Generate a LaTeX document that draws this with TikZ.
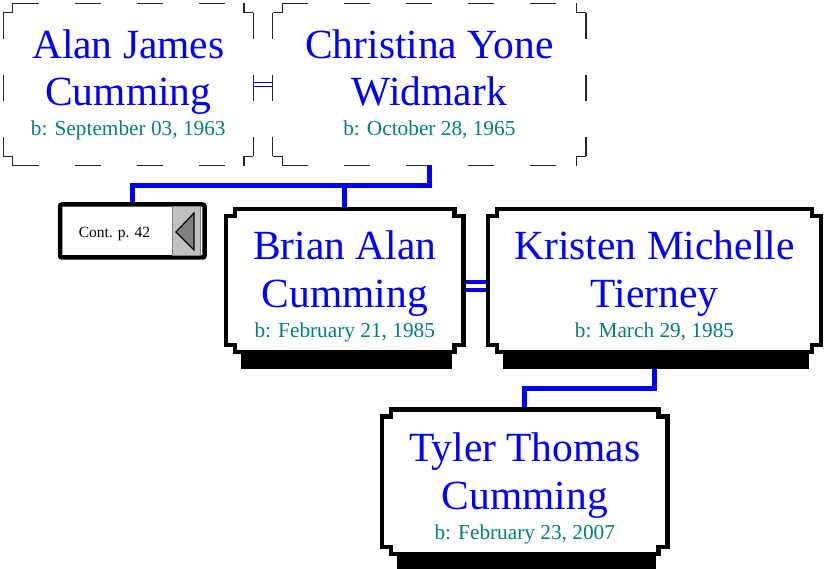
\documentclass[tikz,border=0pt]{standalone}
\usepackage{fontspec}
\setmainfont{Liberation Serif}
\usetikzlibrary{calc}
\definecolor{nameblue}{RGB}{0,0,255}
\definecolor{dateteal}{RGB}{0,128,128}
\definecolor{btngray}{RGB}{192,192,192}
\definecolor{tridark}{RGB}{128,128,128}
% notched outline path of a named box: #1 node, #2 notch x, #3 notch y
\newcommand\notchpath[3]{%
  ($(#1.north west)+(#2,0)$) -- ($(#1.north east)+(-#2,0)$) -- ++(0,#3) -- ++(#2,0)
    -- ($(#1.south east)+(0,-#3)$) -- ++(-#2,0) -- ++(0,#3)
    -- ($(#1.south west)+(#2,0)$) -- ++(0,-#3) -- ++(-#2,0)
    -- ($(#1.north west)+(0,#3)$) -- ++(#2,0) -- cycle}
\newcommand\notchbox[4]{\draw[#1] \notchpath{#2}{#3}{#4};}
% dashed notched box: each side starts its own dash pattern
\newcommand\dashnotch[3]{%
  \fill[white] \notchpath{#1}{#2}{#3};
  \draw[dashside] ($(#1.north west)+(#2,0)$) -- ($(#1.north east)+(-#2,0)$);
  \draw[dashside] ($(#1.north east)+(0,#3)$) -- ($(#1.south east)+(0,-#3)$);
  \draw[dashside] ($(#1.south west)+(#2,0)$) -- ($(#1.south east)+(-#2,0)$);
  \draw[dashside] ($(#1.north west)+(0,#3)$) -- ($(#1.south west)+(0,-#3)$);
  \draw[notchside] ($(#1.north west)+(#2,0)$) -- ++(0,#3) -- ++(-#2,0);
  \draw[notchside] ($(#1.north east)+(-#2,0)$) -- ++(0,#3) -- ++(#2,0);
  \draw[notchside] ($(#1.south east)+(0,-#3)$) -- ++(-#2,0) -- ++(0,#3);
  \draw[notchside] ($(#1.south west)+(0,-#3)$) -- ++(#2,0) -- ++(0,#3);}
\newcommand\boxshadow[1]{%
  \fill[black] ($(#1.south west)+(14.5,-1)$) rectangle ($(#1.south east)+(-12,17)$);}
\begin{document}
\begin{tikzpicture}[x=1pt,y=-1pt,
  boxarea/.style={rectangle, draw=none, inner sep=0pt, outer sep=0pt},
  nametext/.style={anchor=base, inner sep=0pt, text=nameblue, font=\fontsize{41.5}{48}\selectfont},
  datetext/.style={anchor=base, inner sep=0pt, text=dateteal, font=\fontsize{21.3}{25}\selectfont},
  conttext/.style={anchor=base, inner sep=0pt, text=black, font=\fontsize{15.5}{18}\selectfont},
  conn/.style={draw=nameblue, line width=5pt},
  marry/.style={draw=nameblue, line width=4pt},
  marrythin/.style={draw=nameblue, line width=1.1pt},
  dashside/.style={draw=black!85, line width=1.2pt, dash pattern=on 26pt off 36pt},
  notchside/.style={draw=black!85, line width=1.2pt},
  solidbox/.style={draw=black, line width=4.5pt, fill=white, line join=miter},
]
\useasboundingbox (0,0) rectangle (825,569);

% box areas
\node[boxarea, minimum width=250pt, minimum height=162.4pt] (alan) at (128.3,84.5) {};
\node[boxarea, minimum width=313.3pt, minimum height=162.4pt] (christina) at (429.35,84.5) {};
\node[boxarea, minimum width=237.5pt, minimum height=143pt] (brian) at (344.75,280.5) {};
\node[boxarea, minimum width=333pt, minimum height=143pt] (kristen) at (654.5,280.5) {};
\node[boxarea, minimum width=285.5pt, minimum height=144.5pt] (tyler) at (524.75,481.75) {};
\node[boxarea, minimum width=144.5pt, minimum height=53pt] (cont) at (132.25,231) {};

\coordinate (j1) at (300,185.5);
\coordinate (j2) at (600,388.5);

% connectors
\draw[conn] (christina.south) -- (christina.south |- j1) -| (cont.north);
\draw[conn] (brian.north |- j1) -- (brian.north);
\draw[conn] (kristen.south) -- (kristen.south |- j2) -| (tyler.north);
\draw[marrythin] ($(alan.east)+(0,-1.8)$) -- ($(christina.west)+(0,-1.8)$);
\draw[marrythin] ($(alan.east)+(0,1.6)$) -- ($(christina.west)+(0,1.6)$);
\draw[marry] ($(brian.east)+(0,1.5)$) -- ($(kristen.west)+(0,1.5)$);
\draw[marry] ($(brian.east)+(0,10)$) -- ($(kristen.west)+(0,10)$);

% shadows
\boxshadow{brian}
\boxshadow{kristen}
\boxshadow{tyler}

% outlines
\dashnotch{alan}{9.4}{9.4}
\dashnotch{christina}{9.4}{9.4}
\notchbox{solidbox}{brian}{9}{7}
\notchbox{solidbox}{kristen}{9}{7}
\notchbox{solidbox}{tyler}{9}{7}

% continuation box
\draw[draw=black, line width=4.5pt, fill=white, rounded corners=2pt] (cont.north west) rectangle (cont.south east);
\draw[fill=btngray, draw=tridark, line width=0.8pt] (172,206.8) rectangle (200,255.2);
\draw[fill=tridark, draw=black, line width=1.2pt, line join=miter] (176,232) -- (194,213) -- (194,250) -- cycle;
\node[conttext] (contlabel) at (114.5,237.5) {Cont. p. 42};

% texts
\node[nametext] (alan1) at (128.3,58.3) {Alan James};
\node[nametext] (alan2) at (128.3,106) {Cumming};
\node[datetext] (alan3) at (128.3,136) {b: September 03, 1963};

\node[nametext] (chr1) at (429.35,58.3) {Christina Yone};
\node[nametext] (chr2) at (429.35,106) {Widmark};
\node[datetext] (chr3) at (429.35,136) {b: October 28, 1965};

\node[nametext] (bri1) at (344.75,260) {Brian Alan};
\node[nametext] (bri2) at (344.75,307.3) {Cumming};
\node[datetext] (bri3) at (344.75,337.7) {b: February 21, 1985};

\node[nametext] (kri1) at (654.5,260) {Kristen Michelle};
\node[nametext] (kri2) at (654.5,307.3) {Tierney};
\node[datetext] (kri3) at (654.5,337.7) {b: March 29, 1985};

\node[nametext] (tyl1) at (524.75,461.7) {Tyler Thomas};
\node[nametext] (tyl2) at (524.75,509.3) {Cumming};
\node[datetext] (tyl3) at (524.75,539.3) {b: February 23, 2007};
\end{tikzpicture}
\end{document}
